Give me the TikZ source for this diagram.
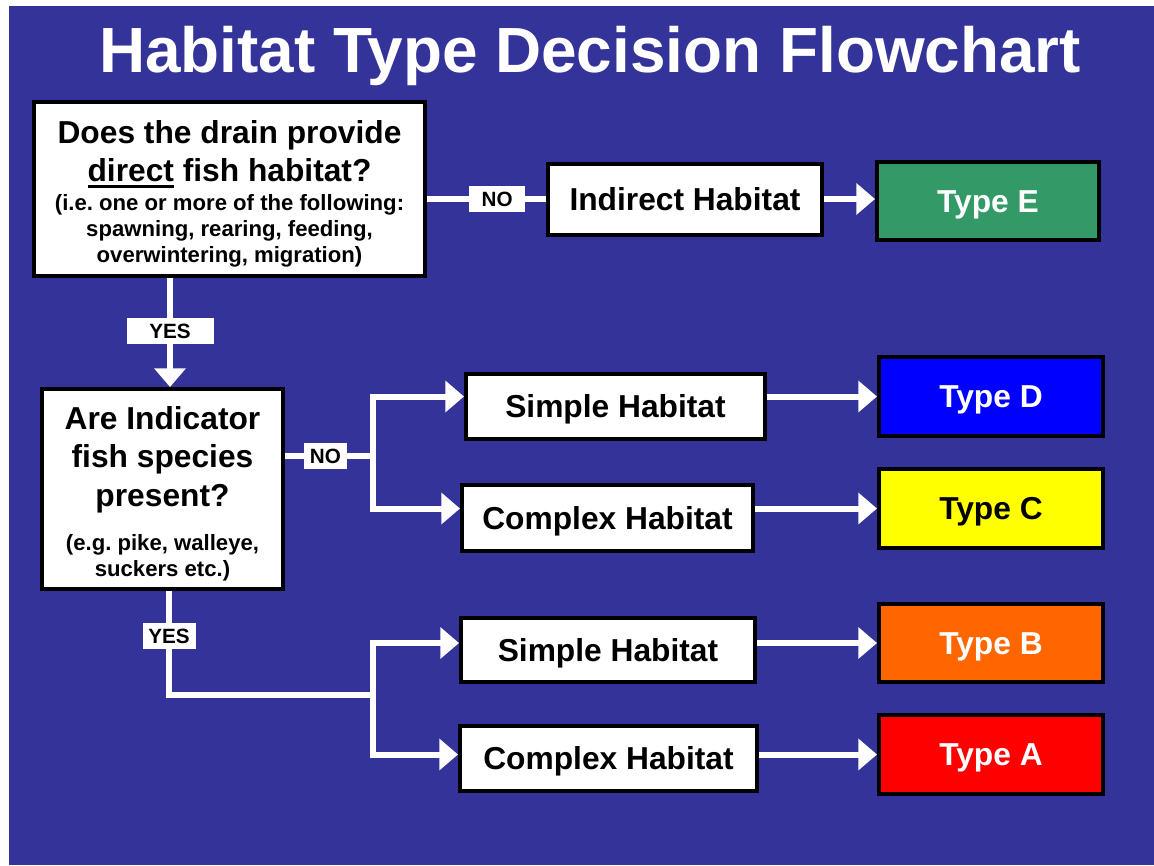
\documentclass[tikz,border=0pt]{standalone}
\usepackage{fontspec}
\setmainfont{Liberation Sans}
\usetikzlibrary{arrows.meta}
\frenchspacing
\definecolor{bgblue}{RGB}{51,51,153}
\definecolor{typeE}{RGB}{51,153,102}
\definecolor{typeD}{RGB}{0,0,255}
\definecolor{typeC}{RGB}{255,255,0}
\definecolor{typeB}{RGB}{255,102,0}
\definecolor{typeA}{RGB}{255,0,0}
\newcommand\thickul[1]{\leavevmode\setbox0\hbox{#1}\rlap{\rule[-5pt]{\wd0}{2.5pt}}\box0\relax}
\newcommand\bigq{\fontsize{23.8pt}{28.5pt}\selectfont\bfseries}
\newcommand\smallq{\fontsize{16.6pt}{19.5pt}\selectfont\bfseries}
\begin{document}
\begin{tikzpicture}[x=0.75pt,y=-0.75pt,
  qbox/.style={draw=black, line width=3pt, fill=white, inner sep=0pt},
  big/.style={font=\fontsize{23.8pt}{28.5pt}\selectfont\bfseries},
  one/.style={text height=17pt, text depth=0pt},
  habbox/.style={qbox, big, one},
  typebox/.style={qbox, big, one, text=white, minimum width=168pt, minimum height=59.25pt},
  wl/.style={draw=white, line width=4.5pt},
  arr/.style={wl, -{Triangle[width=23pt,length=14pt]}},
  lbl/.style={fill=white, inner sep=0pt, font=\fontsize{15.5pt}{18pt}\selectfont\bfseries, text=black, text height=11.1pt, text depth=0pt, minimum height=19.5pt}
]
\useasboundingbox (0,0) rectangle (1154,865);
\fill[white] (0,0) rectangle (1154,865);
\fill[bgblue] (9,6) rectangle (1154,865);

\node[font=\fontsize{47.9pt}{50pt}\selectfont\bfseries, text=white, anchor=base] (title) at (590,72) {Habitat Type Decision Flowchart};

\node[qbox, minimum width=293.25pt, minimum height=130.5pt] (Q1) at (229.5,189)
 {\parbox{285pt}{\centering\vspace*{7.5pt}%
  {\bigq Does the drain provide\\\thickul{direct} fish habitat?\par}\vspace{2.6pt}%
  {\smallq (i.e. one or more of the following:\\spawning, rearing, feeding,\\overwintering, migration)\par}}};

\node[habbox, minimum width=205.5pt, minimum height=53.25pt] (Ind) at (685,199) {Indirect Habitat};
\node[typebox, fill=typeE, minimum width=166.5pt, minimum height=58.5pt] (TE) at (988,201) {Type E};

\node[qbox, minimum width=180.75pt, minimum height=150pt] (Q2) at (162.5,489)
 {\parbox{175pt}{\centering\vspace*{6.75pt}%
  {\fontsize{23.8pt}{29pt}\selectfont\bfseries Are Indicator\\fish species\\present?\par}\vspace{14.4pt}%
  {\fontsize{16.6pt}{19pt}\selectfont\bfseries (e.g. pike, walleye,\\suckers etc.)\par}}};

\node[habbox, minimum width=224.25pt, minimum height=48.75pt] (S1) at (615.5,406.5) {Simple Habitat};
\node[habbox, minimum width=218.25pt, minimum height=49.5pt] (C1) at (607.5,518) {Complex Habitat};
\node[habbox, minimum width=220.5pt, minimum height=48pt] (S2) at (608,650) {Simple Habitat};
\node[habbox, minimum width=222.75pt, minimum height=48.75pt] (C2) at (608.5,758.5) {Complex Habitat};

\node[typebox, fill=typeD] (TD) at (991,396.5) {Type D};
\node[typebox, fill=typeC, text=black] (TC) at (991,508.5) {Type C};
\node[typebox, fill=typeB, minimum height=58.5pt] (TB) at (991,643) {Type B};
\node[typebox, fill=typeA] (TA) at (991,754.5) {Type A};

% Q1 -> Indirect
\draw[wl] (Q1.east |- Ind) -- node[lbl, minimum width=42pt, pos=0.59] {NO} (Ind.west);
\draw[arr] (Ind.east) -- (Ind.east -| TE.west);

% Q1 -> Q2
\coordinate (c1) at (170,0);
\draw[arr] (Q1.south -| c1) -- node[lbl, minimum width=65.25pt, pos=0.49] {YES} (Q2.north -| c1);

% Q2 NO branch
\coordinate (b1) at (373,456);
\draw[wl] (Q2.east |- b1) -- node[lbl, minimum width=32.25pt, pos=0.46] {NO} (b1);
\draw[arr] (b1) |- (S1.west |- TD);
\draw[arr] (b1) |- (C1.west |- TC);
\draw[arr] (S1.east |- TD) -- (TD.west);
\draw[arr] (C1.east |- TC) -- (TC.west);

% Q2 YES branch
\coordinate (y2) at (169,695);
\coordinate (b2) at (373,695);
\draw[wl] (Q2.south -| y2) -- node[lbl, minimum width=39.75pt, pos=0.43] {YES} (y2) -- (b2);
\draw[arr] (b2) |- (S2.west |- TB);
\draw[arr] (b2) |- (C2.west |- TA);
\draw[arr] (S2.east |- TB) -- (TB.west);
\draw[arr] (C2.east |- TA) -- (TA.west);
\end{tikzpicture}
\end{document}
